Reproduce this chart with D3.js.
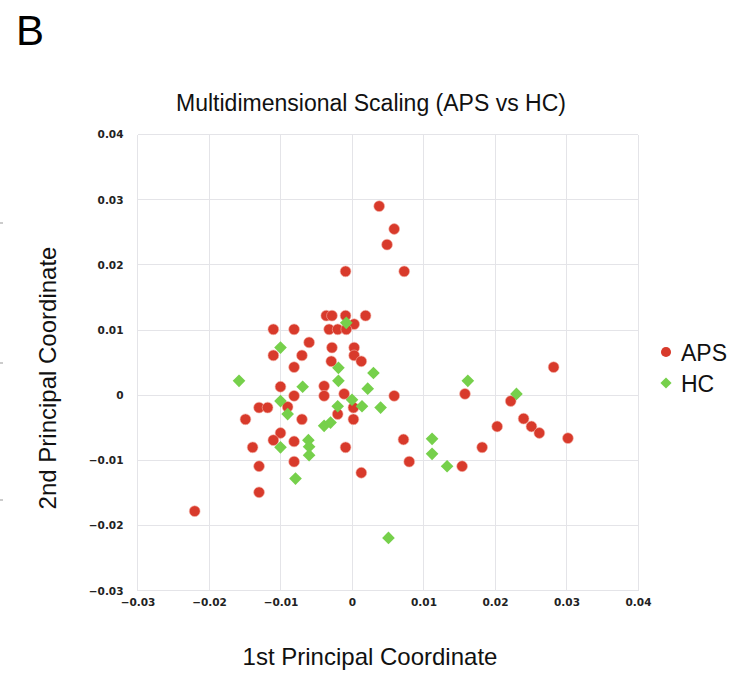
<!DOCTYPE html>
<html>
<head>
<meta charset="utf-8">
<script src="https://cdn.jsdelivr.net/npm/d3@7"></script>
<style>
  body { margin: 0; background: #fff; }
  text { font-family: "Liberation Sans", Arial, Helvetica, sans-serif; }
  .tick text { font-family: "DejaVu Sans", sans-serif; font-weight: bold; font-size: 10.5px; fill: #222; }
</style>
</head>
<body>
<script>
// MDS coordinates: [1st, 2nd]
var apsPoints = [
  [0.0038, 0.029], [0.0059, 0.0255], [0.0049, 0.0231], [-0.0009, 0.019], [0.0073, 0.019],
  [-0.0036, 0.0122], [-0.0028, 0.0122], [-0.0009, 0.0122], [0.0003, 0.0109], [0.0019, 0.0122],
  [-0.011, 0.0101], [-0.0081, 0.0101], [-0.0032, 0.0101], [-0.002, 0.0101], [-0.0008, 0.0101],
  [-0.006, 0.0081], [-0.0028, 0.0073], [0.0003, 0.0073], [-0.011, 0.0061], [-0.007, 0.0061],
  [0.0003, 0.0061], [-0.0081, 0.0043], [-0.0029, 0.0052], [0.0013, 0.0052], [-0.01, 0.0013],
  [-0.0039, 0.0014], [-0.0039, -0.0001], [-0.0081, -0.0001], [-0.0011, 0.0002], [0.0059, -0.0001],
  [-0.013, -0.0019], [-0.0118, -0.0019], [-0.009, -0.0018], [0.0002, -0.0019], [-0.002, -0.0029],
  [-0.0149, -0.0037], [-0.007, -0.0037], [0.0002, -0.0037], [-0.01, -0.0058], [-0.011, -0.0069],
  [-0.0081, -0.0071], [0.0072, -0.0068], [-0.0139, -0.008], [-0.0009, -0.008], [-0.0081, -0.0102],
  [0.008, -0.0102], [-0.013, -0.0109], [0.0013, -0.0119], [-0.013, -0.0149], [-0.022, -0.0178],
  [0.0282, 0.0043], [0.0158, 0.0002], [0.0222, -0.0009], [0.024, -0.0036], [0.0251, -0.0048],
  [0.0262, -0.0058], [0.0203, -0.0048], [0.0302, -0.0066], [0.0154, -0.0109], [0.0182, -0.008]
];
var hcPoints = [
  [-0.0008, 0.0111], [-0.01, 0.0073], [-0.0019, 0.0042], [0.003, 0.0034], [-0.0158, 0.0022],
  [-0.0019, 0.0022], [-0.0069, 0.0013], [0.0022, 0.001], [-0.01, -0.0009], [0.0, -0.0007],
  [-0.002, -0.0017], [0.0014, -0.0017], [0.004, -0.0019], [-0.009, -0.0029], [-0.0039, -0.0047],
  [-0.003, -0.0042], [-0.0061, -0.0069], [-0.006, -0.0079], [-0.006, -0.0092], [0.0112, -0.0067],
  [-0.01, -0.008], [0.0112, -0.009], [-0.0079, -0.0128], [0.0051, -0.0219], [0.0162, 0.0022],
  [0.023, 0.0002], [0.0133, -0.0109]
];
var xTicks = [-0.03, -0.02, -0.01, 0, 0.01, 0.02, 0.03, 0.04];
var yTicks = [-0.03, -0.02, -0.01, 0, 0.01, 0.02, 0.03, 0.04];
var groups = ['APS', 'HC'];

(function () {
  "use strict";
  var W = 743, H = 677;
  var margin = {top: 134.5, right: 105, bottom: 86.3, left: 137.5};
  var width = W - margin.left - margin.right,
      height = H - margin.top - margin.bottom;
  var red = '#d83a2b', green = '#76d04b';

  var svg = d3.select('body').append('svg').attr('width', W).attr('height', H);

  var fmt = function (d) { return d === 0 ? '0' : d3.format('.2f')(d).replace('-', '\u2212'); };

  var x = d3.scaleLinear().domain([-0.03, 0.04]).range([0, width]);
  var y = d3.scaleLinear().domain([-0.03, 0.04]).range([height, 0]);

  var g = svg.append('g').attr('transform', 'translate(' + margin.left + ',' + margin.top + ')');

  // grid lines
  var grid = g.append('g').attr('class', 'grid');
  grid.selectAll('line.v').data(xTicks).enter().append('line')
      .attr('class', 'v')
      .attr('x1', function (d) { return x(d); }).attr('x2', function (d) { return x(d); })
      .attr('y1', 0).attr('y2', height);
  grid.selectAll('line.h').data(yTicks).enter().append('line')
      .attr('class', 'h')
      .attr('y1', function (d) { return y(d); }).attr('y2', function (d) { return y(d); })
      .attr('x1', 0).attr('x2', width);
  grid.selectAll('line').attr('stroke', '#e4e4e8').attr('stroke-width', 1).attr('shape-rendering', 'crispEdges');

  // axes (labels only)
  var xAxis = g.append('g').attr('transform', 'translate(0,' + height + ')')
    .call(d3.axisBottom(x).tickValues(xTicks).tickFormat(fmt).tickSize(0).tickPadding(8));
  var yAxis = g.append('g')
    .call(d3.axisLeft(y).tickValues(yTicks).tickFormat(fmt).tickSize(0).tickPadding(14));
  xAxis.select('.domain').remove();
  yAxis.select('.domain').remove();

  var diamond = d3.symbol().type(d3.symbolSquare).size(80);
  var circle = d3.symbol().type(d3.symbolCircle).size(92);

  g.selectAll('.aps').data(apsPoints).enter().append('path')
    .attr('class', 'aps')
    .attr('d', circle)
    .attr('transform', function (d) { return 'translate(' + x(d[0]) + ',' + y(d[1]) + ')'; })
    .attr('fill', red).attr('stroke', '#f3b0a6').attr('stroke-width', 0.6);

  g.selectAll('.hc').data(hcPoints).enter().append('path')
    .attr('class', 'hc')
    .attr('d', diamond)
    .attr('transform', function (d) { return 'translate(' + x(d[0]) + ',' + y(d[1]) + ') rotate(45)'; })
    .attr('fill', green);

  // title and axis titles
  svg.append('text').attr('x', 371).attr('y', 111).attr('text-anchor', 'middle')
    .attr('font-size', 23).attr('fill', '#111').text('Multidimensional Scaling (APS vs HC)');
  svg.append('text').attr('x', 370).attr('y', 665).attr('text-anchor', 'middle')
    .attr('font-size', 24).attr('fill', '#111').text('1st Principal Coordinate');
  svg.append('text').attr('transform', 'translate(56,378) rotate(-90)').attr('text-anchor', 'middle')
    .attr('font-size', 24).attr('fill', '#111').text('2nd Principal Coordinate');
  svg.append('text').attr('x', 16).attr('y', 45).attr('font-size', 42).attr('fill', '#000').text('B');

  // stray marks at the left edge of the panel
  svg.selectAll('.edge').data([223, 363, 500]).enter().append('line')
    .attr('x1', 0).attr('x2', 3).attr('y1', function (d) { return d; }).attr('y2', function (d) { return d; })
    .attr('stroke', '#999').attr('stroke-width', 1);

  // legend
  var legend = svg.append('g').attr('transform', 'translate(666,352)');
  var items = legend.selectAll('g').data(groups).enter().append('g')
    .attr('transform', function (d, i) { return 'translate(0,' + (i * 31) + ')'; });
  items.append('path')
    .attr('d', function (d) { return d === 'APS' ? d3.symbol().type(d3.symbolCircle).size(80)() : d3.symbol().type(d3.symbolSquare).size(62)(); })
    .attr('transform', function (d) { return d === 'APS' ? null : 'rotate(45)'; })
    .attr('fill', function (d) { return d === 'APS' ? red : green; });
  items.append('text').attr('x', 15).attr('y', 8.5)
    .attr('font-size', 23).attr('fill', '#111').text(function (d) { return d; });
}());
</script>
</body>
</html>
